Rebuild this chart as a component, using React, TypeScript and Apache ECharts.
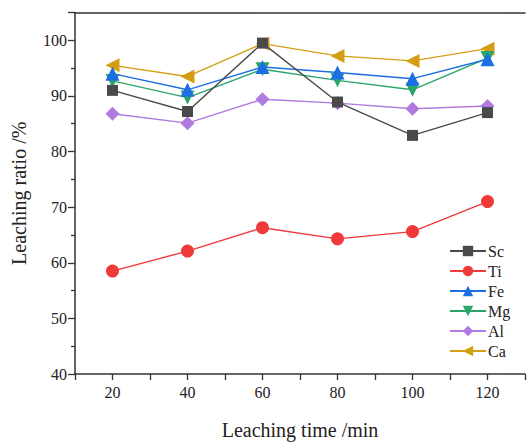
import React, { useEffect, useRef } from "react";
import * as echarts from "echarts";

const times = [20, 40, 60, 80, 100, 120];
const scValues = [91.0, 87.2, 99.5, 88.9, 82.9, 87.0];
const tiValues = [58.5, 62.1, 66.3, 64.3, 65.6, 71.0];
const feValues = [94.0, 91.1, 95.2, 94.2, 93.1, 96.6];
const mgValues = [92.7, 89.7, 94.8, 92.8, 91.1, 96.8];
const alValues = [86.8, 85.1, 89.4, 88.7, 87.7, 88.2];
const caValues = [95.5, 93.5, 99.4, 97.2, 96.3, 98.5];

const seriesNames = ["Sc", "Ti", "Fe", "Mg", "Al", "Ca"];
const seriesValues = [scValues, tiValues, feValues, mgValues, alValues, caValues];
const seriesColors = ["#4a4a4a", "#f03a3a", "#1c6fe3", "#2aa66b", "#b07ae0", "#d39e12"];
const seriesSymbols = ["rect", "circle", "triangle", "triangle", "diamond", "triangle"];
const seriesRotate = [0, 0, 0, 180, 0, 90];
const seriesSizes = [11, 13, 14, 14, 14, 14];

const FONT = "'Liberation Serif', 'DejaVu Serif', serif";

export default function App() {
  const ref = useRef<HTMLDivElement>(null);
  useEffect(() => {
    if (!ref.current) return;
    const chart = echarts.init(ref.current, undefined, { renderer: "svg" });
    const axisColor = "#333";
    chart.setOption({
      animation: false,
      backgroundColor: "#fff",
      grid: { left: 75, top: 12.5, width: 456, height: 368, containLabel: false },
      legend: {
        orient: "vertical",
        left: 444,
        top: 238,
        itemWidth: 36,
        itemHeight: 13,
        itemGap: 4,
        data: seriesNames,
        textStyle: { fontFamily: FONT, fontSize: 16, color: "#222", padding: [0, 0, 0, -3] },
      },
      xAxis: [
        {
          type: "value",
          min: 10,
          max: 130,
          interval: 10,
          position: "bottom",
          name: "Leaching time /min",
          nameLocation: "middle",
          nameGap: 46,
          nameTextStyle: { fontFamily: FONT, fontSize: 20, color: "#222" },
          axisLine: { show: true, lineStyle: { color: axisColor, width: 1.5 } },
          axisTick: { show: true, inside: false, length: 6, lineStyle: { color: axisColor, width: 1.3 } },
          axisLabel: {
            fontFamily: FONT,
            fontSize: 16,
            color: "#222",
            margin: 10,
            formatter: (v: number) => (v % 20 === 0 && v <= 120 ? String(v) : ""),
          },
          splitLine: { show: false },
        },
        {
          type: "value",
          min: 10,
          max: 130,
          position: "top",
          axisLine: { show: true, lineStyle: { color: axisColor, width: 1.5 } },
          axisTick: { show: false },
          axisLabel: { show: false },
          splitLine: { show: false },
        },
      ],
      yAxis: {
        type: "value",
        min: 40,
        max: 105,
        interval: 10,
        name: "Leaching ratio /%",
        nameLocation: "middle",
        nameGap: 46,
        nameTextStyle: { fontFamily: FONT, fontSize: 20, color: "#222" },
        axisLine: { show: true, lineStyle: { color: axisColor, width: 1.5 } },
        axisTick: { show: true, inside: false, length: 7, lineStyle: { color: axisColor, width: 1.3 } },
        minorTick: { show: true, splitNumber: 2, length: 4, lineStyle: { color: axisColor, width: 1.3 } },
        axisLabel: {
          fontFamily: FONT,
          fontSize: 16,
          color: "#222",
          margin: 8,
          formatter: (v: number) => (v > 100 ? "" : String(v)),
        },
        splitLine: { show: false },
      },
      series: seriesNames.map((name, i) => ({
        name,
        type: "line",
        data: times.map((t, j) => [t, seriesValues[i][j]]),
        symbol: seriesSymbols[i],
        symbolSize: seriesSizes[i],
        symbolRotate: seriesRotate[i],
        itemStyle: { color: seriesColors[i] },
        lineStyle: { color: seriesColors[i], width: 1.4 },
        z: 2 + (5 - i),
      })),
    });
    return () => chart.dispose();
  }, []);
  return (
    <div
      ref={ref}
      style={{ position: "absolute", left: 0, top: 0, width: 528, height: 445 }}
    />
  );
}
